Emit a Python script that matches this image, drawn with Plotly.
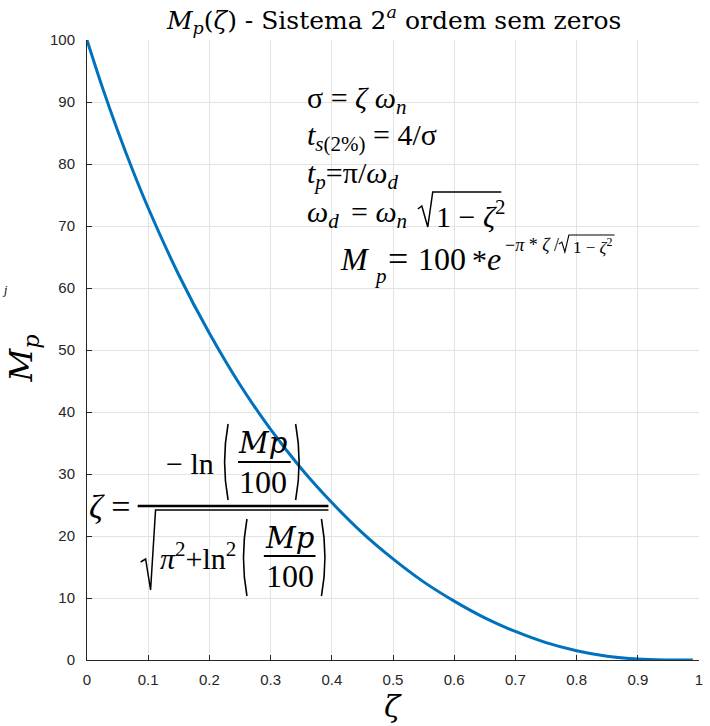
import plotly.graph_objects as go

# ---- data ----
zeta = [0.0, 0.025, 0.05, 0.075, 0.1, 0.15, 0.2, 0.25, 0.3, 0.35, 0.4, 0.45, 0.5,
        0.55, 0.6, 0.65, 0.7, 0.75, 0.8, 0.85, 0.9, 0.95, 0.99]
mp = [100.0, 92.4, 85.4, 78.9, 72.9, 62.1, 52.7, 44.4, 37.2, 30.9, 25.4, 20.5, 16.3,
      12.6, 9.5, 6.8, 4.6, 2.8, 1.5, 0.6, 0.15, 0.01, 0.0]
x_ticks = [0, 0.1, 0.2, 0.3, 0.4, 0.5, 0.6, 0.7, 0.8, 0.9, 1]
x_tick_labels = ["0", "0.1", "0.2", "0.3", "0.4", "0.5", "0.6", "0.7", "0.8", "0.9", "1"]
y_ticks = [0, 10, 20, 30, 40, 50, 60, 70, 80, 90, 100]
y_tick_labels = [str(v) for v in y_ticks]

W, H = 710, 726
L, R, T, B = 87, 7, 40, 66
PW, PH = W - L - R, H - T - B
SERIF = "Liberation Serif"
WIDE = "DejaVu Serif"
SANS = "Liberation Sans"
DARK = "#262626"


def PX(px):
    return (px - L) / PW


def PY(py):
    return (H - B - py) / PH


fig = go.Figure()
fig.add_trace(go.Scatter(x=zeta, y=mp, mode="lines",
                         line=dict(color="#0072BD", width=3, shape="spline"),
                         showlegend=False, hoverinfo="skip"))

annotations = []


def ann(text, px, py, size, xanchor="left", angle=None, family=SERIF):
    a = dict(text=text, x=PX(px), y=PY(py), xref="paper", yref="paper",
             xanchor=xanchor, yanchor="middle", showarrow=False,
             font=dict(family=family, size=size, color="black"))
    if angle is not None:
        a["textangle"] = angle
    annotations.append(a)


shapes = []


def line(x0, y0, x1, y1, w=1.5):
    shapes.append(dict(type="line", xref="paper", yref="paper",
                       x0=PX(x0), y0=PY(y0), x1=PX(x1), y1=PY(y1),
                       line=dict(color="black", width=w)))


def path(points, w=1.5):
    d = "M " + " L ".join(f"{PX(a)},{PY(b)}" for a, b in points)
    shapes.append(dict(type="path", xref="paper", yref="paper", path=d,
                       line=dict(color="black", width=w)))


def paren(x, y0, y1, left=True, w=1.6):
    bow = -7 if left else 7
    xm = x + bow
    d = f"M {PX(x)},{PY(y0)} Q {PX(xm)},{PY((y0 + y1) / 2)} {PX(x)},{PY(y1)}"
    shapes.append(dict(type="path", xref="paper", yref="paper", path=d,
                       line=dict(color="black", width=w)))


# title and axis labels
ann("<i>M</i><sub><i>p</i></sub>(<i>ζ</i>) - Sistema 2<sup><i>a</i></sup> ordem sem zeros",
    395, 20, 25, xanchor="center", family=WIDE)
ann("<i>M</i><sub><i>p</i></sub>", 23, 358, 32, xanchor="center", angle=-90, family=WIDE)
ann("<i>ζ</i>", 395, 707, 30, xanchor="center", family=WIDE)
ann("<i>j</i>", 4, 290, 12, xanchor="center")

# upper-right formulas
ann("σ = <i>ζ</i> <i>ω</i><sub><i>n</i></sub>", 306, 100, 30)
ann("<i>t</i><sub><i>s</i>(2%)</sub> = 4/σ", 306, 137, 30)
ann("<i>t</i><sub><i>p</i></sub>=π/<i>ω</i><sub><i>d</i></sub>", 306, 175, 30)
ann("<i>ω</i><sub><i>d</i></sub>", 306, 214, 30)
ann("= <i>ω</i><sub><i>n</i></sub>", 351, 214, 30)
path([(420, 209), (424, 206), (430, 227), (435, 192), (504, 192)], 1.5)
ann("1 − <i>ζ</i><sup>2</sup>", 436, 214, 30)

ann("<i>M</i>", 340, 259, 32)
ann("<i>p</i>", 374, 276, 21)
ann("=", 388, 259, 36)
ann("100", 418, 259, 32)
ann("*", 473, 259, 30)
ann("<i>e</i>", 488, 259, 32)
ann("−<i>π</i> * <i>ζ</i> /", 506, 245, 18)
path([(562, 244), (565, 242), (568, 252), (572, 235), (618, 235)], 1.1)
ann("1 − <i>ζ</i><sup>2</sup>", 574, 246, 17)

# bottom-left zeta formula
ann("<i>ζ</i> =", 87, 507, 34)
line(138, 506, 330, 506, 2.5)
# numerator
ann("− ln", 165, 463, 30)
paren(229, 424, 500, left=True)
paren(297, 424, 500, left=False)
ann("<i>Mp</i>", 264, 443, 29, xanchor="center", family=WIDE)
line(239, 462, 292, 462, 2.2)
ann("100", 264, 482, 32, xanchor="center")
# denominator
path([(141, 562), (146, 559), (151, 590), (156, 510), (330, 510)], 1.5)
ann("<i>π</i><sup>2</sup>+ln<sup>2</sup>", 158, 556, 30)
paren(248, 519, 596, left=True)
paren(323, 519, 596, left=False)
ann("<i>Mp</i>", 291, 538, 29, xanchor="center", family=WIDE)
line(265, 556, 317, 556, 2.2)
ann("100", 291, 576, 32, xanchor="center")

fig.update_layout(
    width=W, height=H,
    margin=dict(l=L, r=R, t=T, b=B, pad=0),
    paper_bgcolor="white", plot_bgcolor="white",
    font=dict(family=SERIF, color="black"),
    annotations=annotations, shapes=shapes,
    xaxis=dict(range=[0, 1], tickvals=x_ticks, ticktext=x_tick_labels,
               showgrid=True, gridcolor="#e3e3e3", gridwidth=1,
               showline=True, linecolor=DARK, linewidth=1,
               ticks="inside", ticklen=5, tickcolor=DARK, ticklabelstandoff=6,
               tickfont=dict(family=SANS, size=15, color=DARK),
               zeroline=False, mirror=False),
    yaxis=dict(range=[0, 100], tickvals=y_ticks, ticktext=y_tick_labels,
               showgrid=True, gridcolor="#e3e3e3", gridwidth=1,
               showline=True, linecolor=DARK, linewidth=1,
               ticks="inside", ticklen=5, tickcolor=DARK, ticklabelstandoff=8,
               tickfont=dict(family=SANS, size=15, color=DARK),
               zeroline=False, mirror=False),
)

fig.write_html("out.html")
